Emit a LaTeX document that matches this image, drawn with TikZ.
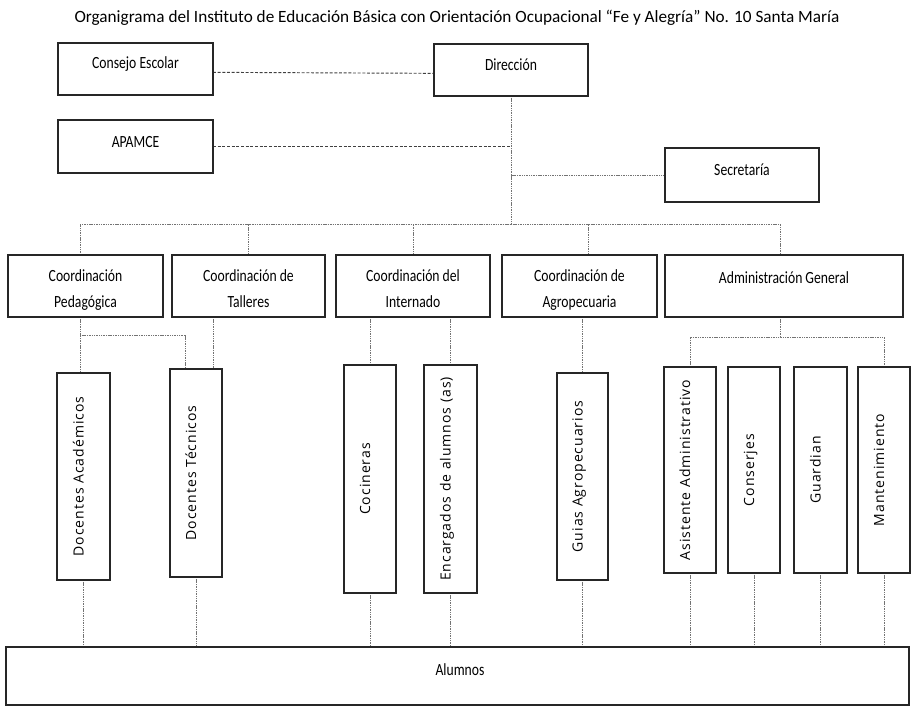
\documentclass[tikz,border=0pt]{standalone}
\usepackage{fontspec}
\setmainfont{Carlito}
\newfontfamily\hfont[FakeStretch=0.8]{Carlito}
\newfontfamily\vfont[LetterSpace=7]{Open Sans}
\usetikzlibrary{calc}
\tikzset{
  obox/.style={draw=black!85, line width=1.8pt, fill=white, inner sep=0pt, outer sep=0pt},
  htext/.style={font=\hfont\fontsize{12.8}{15}\selectfont, inner sep=0pt, anchor=base, text=black},
  vtext/.style={font=\vfont\fontsize{10.5}{12}\selectfont, inner sep=0pt, rotate=90, anchor=base, text=black},
  ttext/.style={font=\fontsize{12.9}{15}\selectfont, inner sep=0pt, anchor=base, text=black},
  conn/.style={draw=black!55, line width=0.6pt, dash pattern=on 0.8pt off 0.5pt},
  dashln/.style={draw=black!75, line width=0.7pt, dash pattern=on 2.2pt off 1.3pt}
}
\newcommand\mkbox[5]{\node[obox, minimum width={(#4-#2)*0.75pt}, minimum height={(#5-#3)*0.75pt}] (#1) at ({(#2+#4)/2},{(#3+#5)/2}) {};}
\begin{document}
\begin{tikzpicture}[x=0.75pt, y=-0.75pt]
\useasboundingbox (0,0) rectangle (915,707);

\node[ttext] (title) at (457,22) {Organigrama del Instituto de Educación Básica con Orientación Ocupacional “Fe y Alegría” No. 10 Santa María};

\mkbox{cons}{58}{43}{213}{95}
\mkbox{dir}{434}{44}{588}{96}
\mkbox{apam}{58}{120}{213}{173}
\mkbox{sec}{665}{148}{819}{202}
\mkbox{cp}{8}{255}{163}{317}
\mkbox{ct}{172}{255}{325}{317}
\mkbox{ci}{336}{255}{490}{317}
\mkbox{ca}{502}{255}{657}{317}
\mkbox{ag}{665}{255}{903}{317}
\mkbox{da}{57}{373}{110}{580}
\mkbox{dt}{170}{369}{222}{577}
\mkbox{coc}{344}{365}{396}{593}
\mkbox{enc}{424}{365}{477}{593}
\mkbox{gui}{557}{373}{608}{580}
\mkbox{asis}{664}{367}{716}{573}
\mkbox{conj}{728}{367}{780}{573}
\mkbox{guar}{794}{367}{847}{573}
\mkbox{mant}{858}{367}{910}{573}
\mkbox{alu}{6}{647}{909}{705}

% top level links
\draw[dashln] ([yshift=-2.5pt]cons.east) -- ([yshift=-2.5pt]dir.west);
\coordinate (apj) at (dir.south |- apam.east);
\draw[dashln] (apam.east) -- (apj);
\coordinate (bus) at (dir.south |- 0,224);
\draw[conn] (dir.south) -- (bus);
\draw[conn] (dir.south) |- (sec.west);
\draw[conn] (bus) -| (cp.north -| 80,0);
\draw[conn] (bus) -| (ct.north);
\draw[conn] (bus) -| (ci.north);
\draw[conn] (bus) -| (ca.north -| 588,0);
\draw[conn] (bus) -| (ag.north -| 780,0);

% second level
\draw[conn] (cp.south -| 80,0) -- (da.north -| 80,0);
\coordinate (cpj) at (80,335);
\draw[conn] (cpj) -| (dt.north -| 185,0);
\draw[conn] (ct.south -| 213,0) -- (dt.north -| 213,0);
\draw[conn] (coc.north |- ci.south) -- (coc.north);
\draw[conn] (enc.north |- ci.south) -- (enc.north);
\draw[conn] (gui.north |- ca.south) -- (gui.north);
\coordinate (agj) at (780,337);
\draw[conn] (ag.south -| agj) -- (agj);
\draw[conn] (asis.north) |- (agj) -| (mant.north);

% to Alumnos
\foreach \b in {da,dt,coc,enc,gui,asis,conj,guar,mant}
  \draw[conn] (\b.south) -- (\b.south |- alu.north);

% redraw box borders on top of connector ends
\foreach \b in {cons,dir,apam,sec,cp,ct,ci,ca,ag,da,dt,coc,enc,gui,asis,conj,guar,mant,alu}
  \draw[draw=black!85, line width=1.8pt] (\b.north west) rectangle (\b.south east);

% texts
\node[htext] (tcons) at (cons.center |- 0,68.5) {Consejo Escolar};
\node[htext] (tdir) at (dir.center |- 0,70.5) {Dirección};
\node[htext] (tapam) at (apam.center |- 0,147.5) {APAMCE};
\node[htext] (tsec) at (sec.center |- 0,175.5) {Secretaría};
\node[htext] (tcp1) at (cp.center |- 0,281) {Coordinación};
\node[htext] (tcp2) at (cp.center |- 0,307) {Pedagógica};
\node[htext] (tct1) at (ct.center |- 0,281) {Coordinación de};
\node[htext] (tct2) at (ct.center |- 0,307) {Talleres};
\node[htext] (tci1) at (ci.center |- 0,281) {Coordinación del};
\node[htext] (tci2) at (ci.center |- 0,307) {Internado};
\node[htext] (tca1) at (ca.center |- 0,281) {Coordinación de};
\node[htext] (tca2) at (ca.center |- 0,307) {Agropecuaria};
\node[htext] (tag) at (ag.center |- 0,283) {Administración General};
\node[htext] (talu) at (460,675) {Alumnos};

\node[vtext] (tda) at (da.center) {Docentes Académicos};
\node[vtext] (tdt) at (dt.center) {Docentes Técnicos};
\node[vtext] (tcoc) at (coc.center) {Cocineras};
\node[vtext] (tenc) at (enc.center) {Encargados de alumnos (as)};
\node[vtext] (tgui) at (gui.center) {Guias Agropecuarios};
\node[vtext] (tasis) at (asis.center) {Asistente Administrativo};
\node[vtext] (tconj) at (conj.center) {Conserjes};
\node[vtext] (tguar) at (guar.center) {Guardian};
\node[vtext] (tmant) at (mant.center) {Mantenimiento};
\end{tikzpicture}
\end{document}
